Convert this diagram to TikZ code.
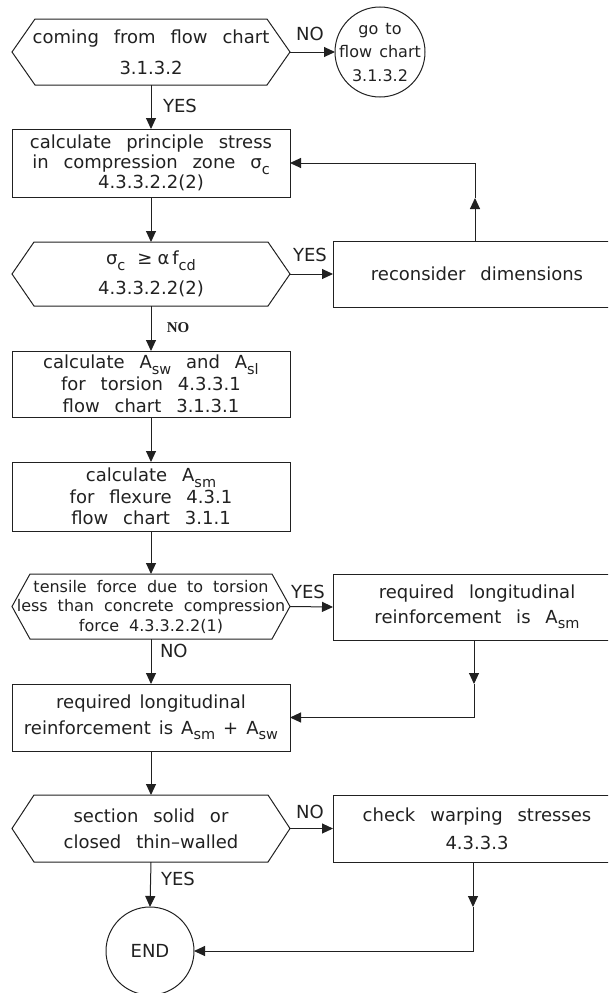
\documentclass[tikz,border=0pt]{standalone}
\usepackage{fontspec}
\setmainfont{DejaVu Sans}[WordSpace=2.6]
\newfontfamily\midspace{DejaVu Sans}[WordSpace=1.75]
\newfontfamily\tightspace{DejaVu Sans}[WordSpace=1.4]
\newfontfamily\tagserif{Liberation Serif}
\usetikzlibrary{arrows.meta}
\definecolor{ink}{gray}{0.13}
% lowered, smaller index text (A_sw, sigma_c, f_cd ...)
\newcommand\lo[1]{\raisebox{-5.5pt}{\fontsize{14.5}{14.5}\selectfont #1}}
% decision outline drawn round a named rectangle node
\newcommand\drawhexagon[2]{\draw[outline] ([xshift=#2]#1.north west) -- ([xshift=-#2]#1.north east) -- (#1.east) -- ([xshift=-#2]#1.south east) -- ([xshift=#2]#1.south west) -- (#1.west) -- cycle;}
\begin{document}
\begin{tikzpicture}[x=1pt,y=-1pt,
  every node/.style={text=ink, inner sep=0pt, outer sep=0pt},
  outline/.style={draw=ink, line width=1pt, line join=miter},
  boxnode/.style={outline, rectangle, minimum width=278pt, align=center},
  sidebox/.style={outline, rectangle, minimum width=288pt, minimum height=66pt, align=center},
  hexnode/.style={rectangle, minimum width=278pt, align=center},
  roundnode/.style={outline, circle},
  flow/.style={draw=ink, line width=1pt, -{Triangle[length=11pt,width=10pt]}},
  answer/.style={font=\fontsize{18}{18}\selectfont},
  textA/.style={font=\fontsize{18}{#1}\selectfont},
]
\useasboundingbox (0,0) rectangle (608,993);
\clip (0,0) rectangle (608,993);

% ---- main column ----
\node[hexnode, minimum height=66pt, textA=31pt] (h1) at (151,52) {coming from flow chart\\3.1.3.2};
\node[roundnode, minimum size=90pt,
  label={[font=\midspace\fontsize{16}{23.5}\selectfont, align=center, text=ink]center:go to\\flow chart\\3.1.3.2}] (go) at (380,52) {};
\node[boxnode, minimum height=68pt, textA=20pt] (b2) at (151,163)
  {calculate principle stress\\in compression zone σ\lo{c}\\4.3.3.2.2(2)};
\node[hexnode, minimum height=64pt, textA=30pt] (h2) at (151,274)
  {σ\lo{c}\hspace{12pt}≥\hspace{5pt}α\hspace{3pt}f\lo{cd}\\4.3.3.2.2(2)};
\node[sidebox, textA=20pt] (rec) at (477,274) {reconsider dimensions};
\node[boxnode, minimum height=66pt, textA=22pt] (b3) at (151,384)
  {calculate A\lo{sw} and A\lo{sl}\\for torsion 4.3.3.1\\flow chart 3.1.3.1};
\node[boxnode, minimum height=69pt, textA=21.5pt] (b4) at (151,496.5)
  {calculate A\lo{sm}\\for flexure 4.3.1\\flow chart 3.1.1};
\node[hexnode, minimum height=65pt, font=\tightspace\fontsize{16}{19.5}\selectfont] (h3) at (151,606.5)
  {tensile force due to torsion\\less than concrete compression\\force 4.3.3.2.2(1)};
\node[sidebox, textA=25pt] (req) at (477,607) {required longitudinal\\reinforcement is A\lo{sm}};
\node[boxnode, minimum height=67pt, font=\midspace\fontsize{18}{26}\selectfont] (b5) at (151,717.5)
  {required longitudinal\\reinforcement is A\lo{sm} + A\lo{sw}};
\node[hexnode, minimum height=67pt, textA=26pt] (h4) at (151,828.5) {section solid or\\closed thin--walled};
\node[sidebox, minimum height=67pt, textA=28pt] (warp) at (477,828.5) {check warping stresses\\4.3.3.3};
\node[roundnode, minimum size=88pt, font=\fontsize{18}{18}\selectfont] (end) at (150,951) {END};

\drawhexagon{h1}{23pt}
\drawhexagon{h2}{22pt}
\drawhexagon{h3}{18pt}
\drawhexagon{h4}{22pt}

% ---- branch labels ----
\node[answer] (noA) at (310,34) {NO};
\node[answer, anchor=west] (yesA) at (163,106) {YES};
\node[answer] (yesB) at (310,255) {YES};
\node[font=\tagserif\bfseries\fontsize{15}{15}\selectfont] (noB) at (178,328) {NO};
\node[answer] (yesC) at (308,592) {YES};
\node[answer, anchor=west] (noC) at (160,651) {NO};
\node[answer] (noD) at (310,812) {NO};
\node[answer, anchor=west] (yesD) at (161,879) {YES};

% ---- connectors ----
\draw[flow] (h1.east) -- (go.west);
\draw[flow] (h1.south) -- (b2.north);
\draw[flow] (b2.south) -- (h2.north);
\draw[flow] (h2.east) -- (rec.west);
\coordinate (fbtip) at (475,198);
\coordinate (fbturn) at (475,163);
\draw[flow] (rec.north -| fbtip) -- (fbtip);
\draw[flow] (fbtip) -- (fbturn) -- (b2.east);
\draw[flow] (h2.south) -- (b3.north);
\draw[flow] (b3.south) -- (b4.north);
\draw[flow] (b4.south) -- (h3.north);
\draw[flow] (h3.east) -- (req.west);
\draw[flow] (h3.south) -- (b5.north);
\coordinate (rqtip) at (474,684);
\coordinate (rqturn) at (474,717.5);
\draw[flow] (req.south -| rqtip) -- (rqtip);
\draw[flow] (rqtip) -- (rqturn) -- (b5.east);
\draw[flow] (b5.south) -- (h4.north);
\draw[flow] (h4.east) -- (warp.west);
\draw[flow] (h4.south) -- (end.north);
\coordinate (wptip) at (473,907);
\coordinate (wpturn) at (473,951);
\draw[flow] (warp.south -| wptip) -- (wptip);
\draw[flow] (wptip) -- (wpturn) -- (end.east);
\end{tikzpicture}
\end{document}
